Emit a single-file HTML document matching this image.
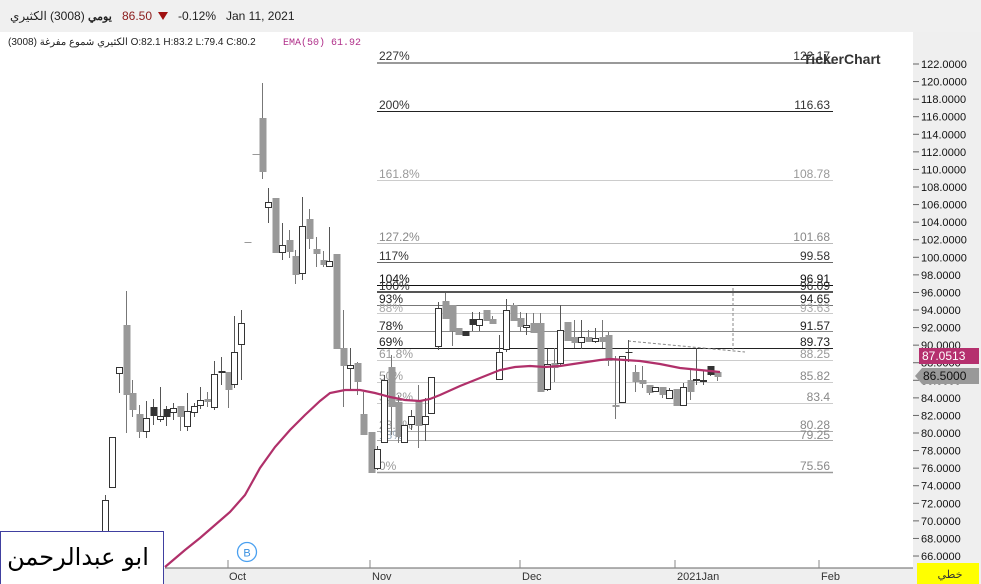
<!DOCTYPE html>
<html><head><meta charset="utf-8"><style>
html,body{margin:0;padding:0;background:#fff;width:981px;height:584px;overflow:hidden;font-family:"Liberation Sans","Noto Sans CJK SC",sans-serif}
</style></head><body>
<svg id="s" width="981" height="584" xmlns="http://www.w3.org/2000/svg" style="position:absolute;left:0;top:0;font-family:'Liberation Sans','Noto Sans CJK SC',sans-serif">
<rect x="0" y="0" width="981" height="32" fill="#f0f0f0"/>
<text x="10" y="20" font-size="12" fill="#222">الكثيري</text>
<text x="50" y="20" font-size="12" fill="#222">(3008)</text>
<text x="88" y="20" font-size="11" fill="#222" font-weight="bold">يومي</text>
<text x="122" y="20" font-size="12" fill="#8b1a1a">86.50</text>
<polygon points="158,12 168,12 163,20" fill="#a01010"/>
<text x="178" y="20" font-size="12" fill="#222">-0.12%</text>
<text x="226" y="20" font-size="12" fill="#222">Jan 11, 2021</text>
<text x="8" y="45" font-size="10" fill="#222">الكثيري شموع مفرغة (3008) O:82.1  H:83.2  L:79.4  C:80.2</text>
<text x="283" y="45" font-size="10" fill="#b0308a" font-family="Liberation Mono,monospace">EMA(50)</text>
<text x="331" y="45" font-size="10" fill="#b0308a" font-family="Liberation Mono,monospace">61.92</text>
<!-- right panel -->
<rect x="913" y="32" width="68" height="552" fill="#efefef"/>
<rect x="0" y="568" width="913" height="16" fill="#efefef"/>
<line x1="165" y1="568" x2="913" y2="568" stroke="#666" stroke-width="1"/>
<g id="g"></g>
<!-- fib -->
<g font-size="12">
<line x1="377" y1="63" x2="833" y2="63" stroke="#999" stroke-width="2"/><text x="379" y="60" fill="#333">227%</text><text x="830" y="60" fill="#333" text-anchor="end">122.17</text>
<line x1="377" y1="111.5" x2="833" y2="111.5" stroke="#222"/><text x="379" y="109" fill="#333">200%</text><text x="830" y="109" fill="#333" text-anchor="end">116.63</text>
<line x1="377" y1="180.5" x2="833" y2="180.5" stroke="#ccc"/><text x="379" y="178" fill="#999">161.8%</text><text x="830" y="178" fill="#999" text-anchor="end">108.78</text>
<line x1="377" y1="243.5" x2="833" y2="243.5" stroke="#bbb"/><text x="379" y="241" fill="#888">127.2%</text><text x="830" y="241" fill="#888" text-anchor="end">101.68</text>
<line x1="377" y1="262.5" x2="833" y2="262.5" stroke="#666"/><text x="379" y="260" fill="#333">117%</text><text x="830" y="260" fill="#333" text-anchor="end">99.58</text>
<line x1="377" y1="285.5" x2="833" y2="285.5" stroke="#111"/><text x="379" y="283" fill="#111">104%</text><text x="830" y="283" fill="#111" text-anchor="end">96.91</text>
<line x1="377" y1="292" x2="833" y2="292" stroke="#555" stroke-width="2"/><text x="379" y="290" fill="#333">100%</text><text x="830" y="290" fill="#333" text-anchor="end">96.09</text>
<line x1="377" y1="305.5" x2="833" y2="305.5" stroke="#777"/><text x="379" y="303" fill="#222">93%</text><text x="830" y="303" fill="#222" text-anchor="end">94.65</text>
<line x1="377" y1="313.5" x2="833" y2="313.5" stroke="#ccc"/><text x="379" y="312" fill="#aaa">88%</text><text x="830" y="312" fill="#aaa" text-anchor="end">93.63</text>
<line x1="377" y1="331.5" x2="833" y2="331.5" stroke="#888"/><text x="379" y="330" fill="#222">78%</text><text x="830" y="330" fill="#222" text-anchor="end">91.57</text>
<line x1="377" y1="348.5" x2="833" y2="348.5" stroke="#222"/><text x="379" y="346" fill="#222">69%</text><text x="830" y="346" fill="#222" text-anchor="end">89.73</text>
<line x1="377" y1="360.5" x2="833" y2="360.5" stroke="#ccc"/><text x="379" y="358" fill="#999">61.8%</text><text x="830" y="358" fill="#999" text-anchor="end">88.25</text>
<line x1="377" y1="382.5" x2="833" y2="382.5" stroke="#ccc"/><text x="379" y="380" fill="#999">50%</text><text x="830" y="380" fill="#888" text-anchor="end">85.82</text>
<line x1="377" y1="403.5" x2="833" y2="403.5" stroke="#ccc"/><text x="379" y="401" fill="#999">38.2%</text><text x="830" y="401" fill="#888" text-anchor="end">83.4</text>
<line x1="377" y1="431.5" x2="833" y2="431.5" stroke="#aaa"/><text x="379" y="429" fill="#999">23.6%</text><text x="830" y="429" fill="#888" text-anchor="end">80.28</text>
<line x1="377" y1="440.5" x2="833" y2="440.5" stroke="#aaa"/><text x="379" y="439" fill="#9ab">18%</text><text x="830" y="439" fill="#888" text-anchor="end">79.25</text>
<line x1="377" y1="472.5" x2="833" y2="472.5" stroke="#999" stroke-width="1.5"/><text x="379" y="470" fill="#999">0%</text><text x="830" y="470" fill="#888" text-anchor="end">75.56</text>
</g>
<line x1="628" y1="341" x2="745" y2="352" stroke="#888" stroke-dasharray="3,2"/>
<line x1="733" y1="288" x2="733" y2="350" stroke="#888" stroke-dasharray="3,2"/>
<g id="c"></g>
<polyline fill="none" stroke="#b0306a" stroke-width="2.2" points="165,567 185,550 200,538 215,525 230,512 245,495 260,468 275,447 290,430 305,415 320,401 330,393 345,390 360,390 375,393 390,397 405,400 420,401 430,399 440,395 460,386 480,378 500,370 515,367 530,366 545,367 560,366 580,363 600,360 610,359 625,360 640,361 660,364 680,368 700,370 720,372"/>
<!-- logo -->
<text x="803" y="64" font-size="14" font-weight="bold" fill="#333">TickerChart</text>
<!-- axis labels -->
<g id="ax" font-size="11" fill="#111"></g>
<rect x="919" y="348" width="60" height="16" fill="#b5306e"/>
<text x="922" y="360" font-size="12" fill="#fff">87.0513</text>
<polygon points="915,376 922,368 979,368 979,384 922,384" fill="#999"/>
<text x="923" y="380" font-size="12" fill="#111">86.5000</text>
<rect x="917" y="563" width="62" height="21" fill="#ffff00"/>
<text x="950" y="578" font-size="11" fill="#333" text-anchor="middle">خطي</text>
<g font-size="11" fill="#333">
<line x1="228" y1="560" x2="228" y2="568" stroke="#888"/><text x="229" y="580">Oct</text>
<line x1="370" y1="560" x2="370" y2="568" stroke="#888"/><text x="372" y="580">Nov</text>
<line x1="520" y1="560" x2="520" y2="568" stroke="#888"/><text x="522" y="580">Dec</text>
<line x1="675" y1="560" x2="675" y2="568" stroke="#888"/><text x="677" y="580">2021Jan</text>
<line x1="819" y1="560" x2="819" y2="568" stroke="#888"/><text x="821" y="580">Feb</text>
</g>
<circle cx="247" cy="552" r="9.5" fill="#fff" stroke="#4aa0f0" stroke-width="1.3"/>
<text x="247" y="556.5" font-size="11" fill="#3a90e0" text-anchor="middle">B</text>
<rect x="0.5" y="531.5" width="163" height="53" fill="#fff" stroke="#4040a0"/>
<text x="78" y="565" font-size="24" fill="#000" text-anchor="middle" font-family="'DejaVu Sans',sans-serif">ابو عبدالرحمن</text>
</svg>
<script>
var ns="http://www.w3.org/2000/svg";
function el(p,t,a){var e=document.createElementNS(ns,t);for(var k in a)e.setAttribute(k,a[k]);p.appendChild(e);return e;}
var ax=document.getElementById('ax');
for(var v=122;v>=66;v-=2){var y=64+(122-v)*8.786;el(ax,'line',{x1:913,y1:y,x2:919,y2:y,stroke:'#666'});var t=el(ax,'text',{x:921,y:y+4});t.textContent=v.toFixed(4);}
var C=[
[105,500,532,495,545,'h'],[112,437,487,437,487,'h'],[119,367,373,367,393,'h'],[126,325,395,291,433,'g'],[132,393,410,380,417,'g'],
[139,414,432,405,438,'g'],[146,418,431,401,438,'h'],[153,407,416,399,425,'d'],[160,416,419,387,422,'h'],[166,409,417,406,426,'d'],
[173,408,412,403,420,'h'],[180,406,417,406,431,'g'],[187,411,426,393,431,'h'],[194,406,412,403,417,'h'],[200,400,405,387,409,'h'],
[207,399,402,392,407,'g'],[214,374,407,361,410,'h'],[221,371,373,357,385,'d'],[228,372,390,372,408,'g'],[234,352,384,316,388,'h'],
[241,323,344,310,380,'h'],[255,154,155,154,155,'g'],[247,242,243,242,243,'g'],[262,118,172,83,179,'g'],[268,202,207,188,223,'h'],
[275,198,253,198,253,'g'],[282,245,252,223,260,'h'],[289,240,252,230,258,'g'],[295,256,275,250,284,'g'],[302,226,273,197,280,'h'],
[309,219,239,209,249,'g'],[316,249,254,237,267,'g'],[323,260,265,251,267,'g'],[329,261,266,227,267,'h'],[336,254,349,254,349,'g'],
[343,348,366,310,407,'g'],[350,365,368,348,389,'h'],[357,363,382,362,395,'g'],[363,414,435,392,435,'g'],[371,432,473,432,473,'g'],
[377,449,468,446,470,'h'],[384,380,442,375,442,'h'],[391,367,407,355,435,'g'],[398,402,437,395,443,'g'],[404,425,442,425,442,'h'],
[411,416,424,410,430,'h'],[418,400,426,385,448,'g'],[425,416,424,398,441,'h'],[431,377,413,377,413,'h'],[438,308,346,302,350,'h'],
[445,301,319,293,319,'g'],[452,305,331,305,346,'g'],[458,328,335,328,335,'g'],[465,331,336,331,336,'d'],[472,319,325,312,331,'d'],
[479,319,325,312,331,'h'],[486,310,321,310,321,'g'],[492,319,324,316,324,'g'],[499,352,379,335,380,'h'],[506,310,349,299,352,'h'],
[513,305,321,303,321,'g'],[520,318,327,312,332,'g'],[526,325,327,313,335,'h'],[533,323,333,313,333,'g'],[540,323,392,313,392,'g'],
[547,364,389,349,391,'h'],[554,363,368,348,382,'g'],[560,330,363,305,365,'h'],[567,322,341,322,341,'g'],[574,337,343,320,348,'g'],
[581,337,342,320,349,'h'],[588,337,342,330,342,'g'],[595,338,341,328,343,'h'],[602,337,342,320,348,'g'],[608,335,361,332,366,'g'],
[615,405,407,356,419,'g'],[622,356,402,356,402,'h'],[628,352,353,340,362,'d'],[635,372,382,365,392,'g'],[642,380,384,366,388,'g'],
[649,385,393,385,395,'g'],[655,387,391,387,391,'h'],[662,387,395,387,398,'g'],[669,390,398,388,398,'h'],[676,389,406,389,406,'g'],
[683,387,405,383,405,'h'],[690,380,392,370,400,'g'],[696,379,380,348,385,'h'],[703,380,381,370,385,'h'],[710,366,375,366,376,'d'],[717,372,377,372,381,'g']];
var g=document.getElementById('c');
C.forEach(function(c){var x=c[0],col=c[5]=='g'?'#999':(c[5]=='d'?'#333':'#333');
el(g,'line',{x1:x+0.5,y1:c[3],x2:x+0.5,y2:c[4],stroke:c[5]=='g'?'#777':'#555'});
var h=Math.max(1,c[2]-c[1]);
if(c[5]=='h')el(g,'rect',{x:x-2.5,y:c[1]+0.5,width:6,height:h,fill:'#fff',stroke:'#333'});
else el(g,'rect',{x:x-2.5,y:c[1],width:7,height:h+(c[5]=='d'?0:0),fill:col});});
</script>
</body></html>
